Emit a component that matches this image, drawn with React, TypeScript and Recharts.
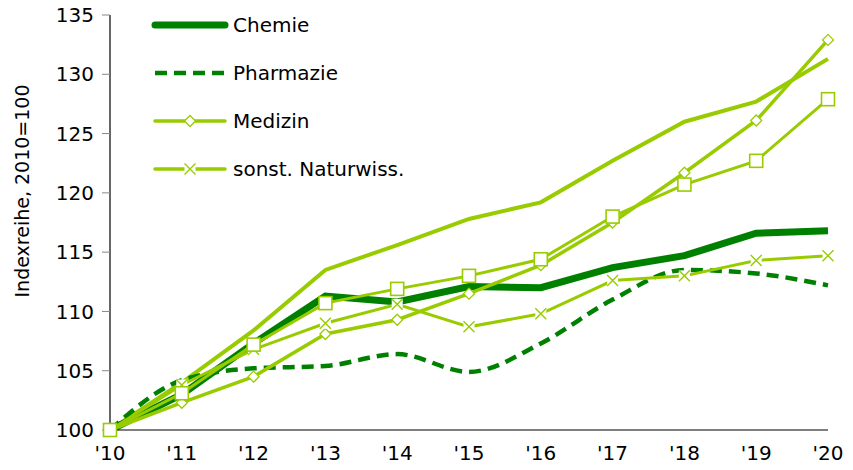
import React from "react";
import { LineChart, Line, XAxis, YAxis } from "recharts";

const years = ["'10", "'11", "'12", "'13", "'14", "'15", "'16", "'17", "'18", "'19", "'20"];

const chemie = [100, 103.0, 107.3, 111.3, 110.8, 112.1, 112.0, 113.7, 114.7, 116.6, 116.8];
const pharmazie = [100, 104.2, 105.2, 105.4, 106.4, 104.9, 107.3, 111.0, 113.5, 113.2, 112.2];
const medizin = [100, 102.3, 104.5, 108.1, 109.3, 111.5, 113.9, 117.5, 121.7, 126.1, 132.9];
const naturwiss = [100, 103.8, 106.8, 109.0, 110.6, 108.7, 109.8, 112.6, 113.0, 114.3, 114.7];
const squareSeries = [100, 103.1, 107.2, 110.7, 111.9, 113.0, 114.4, 118.0, 120.7, 122.7, 127.9];
const topSeries = [100, 104.0, 108.4, 113.5, 115.6, 117.8, 119.2, 122.7, 126.0, 127.7, 131.3];

const yTicks = [100, 105, 110, 115, 120, 125, 130, 135];

const DARK = "#008000";
const LIGHT = "#99cc00";
const FONT = "'DejaVu Sans', Verdana, sans-serif";

const data = years.map((year, i) => ({
  year,
  chemie: chemie[i],
  pharmazie: pharmazie[i],
  medizin: medizin[i],
  naturwiss: naturwiss[i],
  squares: squareSeries[i],
  top: topSeries[i],
}));

const Diamond = (props: any) => {
  const { cx, cy } = props;
  if (cx == null || cy == null) return null;
  const r = 5.5;
  return (
    <path
      d={`M${cx},${cy - r}L${cx + r},${cy}L${cx},${cy + r}L${cx - r},${cy}Z`}
      fill="#fff"
      stroke={LIGHT}
      strokeWidth={1.3}
    />
  );
};

const Square = (props: any) => {
  const { cx, cy } = props;
  if (cx == null || cy == null) return null;
  const r = 6.5;
  return <rect x={cx - r} y={cy - r} width={2 * r} height={2 * r} fill="#fff" stroke={LIGHT} strokeWidth={1.6} />;
};

const Cross = (props: any) => {
  const { cx, cy } = props;
  if (cx == null || cy == null) return null;
  const r = 5.5;
  return (
    <g>
      <rect x={cx - r} y={cy - r} width={2 * r} height={2 * r} fill="#fff" />
      <path
        d={`M${cx - r},${cy - r}L${cx + r},${cy + r}M${cx - r},${cy + r}L${cx + r},${cy - r}`}
        stroke={LIGHT}
        strokeWidth={1.4}
        fill="none"
      />
    </g>
  );
};

const legendRows = [
  { name: "Chemie", color: DARK, width: 7, dash: undefined, marker: null },
  { name: "Pharmazie", color: DARK, width: 4.5, dash: "12 7", marker: null },
  { name: "Medizin", color: LIGHT, width: 3.5, dash: undefined, marker: "diamond" },
  { name: "sonst. Naturwiss.", color: LIGHT, width: 3.5, dash: undefined, marker: "cross" },
];

const ChartLegend = () => (
  <div
    style={{
      position: "absolute",
      left: 151,
      top: 1,
      fontFamily: FONT,
      fontSize: 20,
      color: "#000",
      lineHeight: "20px",
    }}
  >
    {legendRows.map((row) => (
      <div key={row.name} style={{ display: "flex", alignItems: "center", height: 48 }}>
        <svg width={78} height={20} style={{ marginRight: 4 }}>
          <line
            x1={4}
            x2={74}
            y1={10}
            y2={10}
            stroke={row.color}
            strokeWidth={row.width}
            strokeDasharray={row.dash}
            strokeLinecap={row.dash ? "butt" : "round"}
          />
          {row.marker === "diamond" && <Diamond cx={39} cy={10} />}
          {row.marker === "cross" && <Cross cx={39} cy={10} />}
        </svg>
        <span>{row.name}</span>
      </div>
    ))}
  </div>
);

export default function App() {
  return (
    <div style={{ position: "absolute", left: 0, top: 0, width: 853, height: 470, background: "#fff" }}>
      <LineChart width={853} height={470} data={data} margin={{ top: 15, right: 25, bottom: 0, left: 0 }}>
        <XAxis
          dataKey="year"
          axisLine={{ stroke: "#000", strokeWidth: 1.2 }}
          tickLine={false}
          tick={{ fill: "#000", fontSize: 20, fontFamily: FONT }}
          tickMargin={10}
          height={40}
          interval={0}
        />
        <YAxis
          domain={[100, 135]}
          ticks={yTicks}
          width={110}
          axisLine={{ stroke: "#000", strokeWidth: 1.2 }}
          tickLine={{ stroke: "#888" }}
          tickSize={8}
          tickMargin={8}
          tick={{ fill: "#000", fontSize: 20, fontFamily: FONT }}
          label={{
            value: "Indexreihe, 2010=100",
            angle: -90,
            position: "insideLeft",
            dx: 17,
            dy: 75,
            style: { fill: "#000", fontSize: 19, fontFamily: FONT },
          }}
        />
        <Line dataKey="top" stroke={LIGHT} strokeWidth={4} dot={false} isAnimationActive={false} />
        <Line dataKey="chemie" stroke={DARK} strokeWidth={7} dot={false} isAnimationActive={false} />
        <Line
          dataKey="pharmazie"
          type="monotone"
          stroke={DARK}
          strokeWidth={4.5}
          strokeDasharray="12 7"
          dot={false}
          isAnimationActive={false}
        />
        <Line dataKey="medizin" stroke={LIGHT} strokeWidth={3.5} dot={<Diamond />} isAnimationActive={false} />
        <Line dataKey="naturwiss" stroke={LIGHT} strokeWidth={3} dot={<Cross />} isAnimationActive={false} />
        <Line dataKey="squares" stroke={LIGHT} strokeWidth={3} dot={<Square />} isAnimationActive={false} />
      </LineChart>
      <ChartLegend />
    </div>
  );
}
